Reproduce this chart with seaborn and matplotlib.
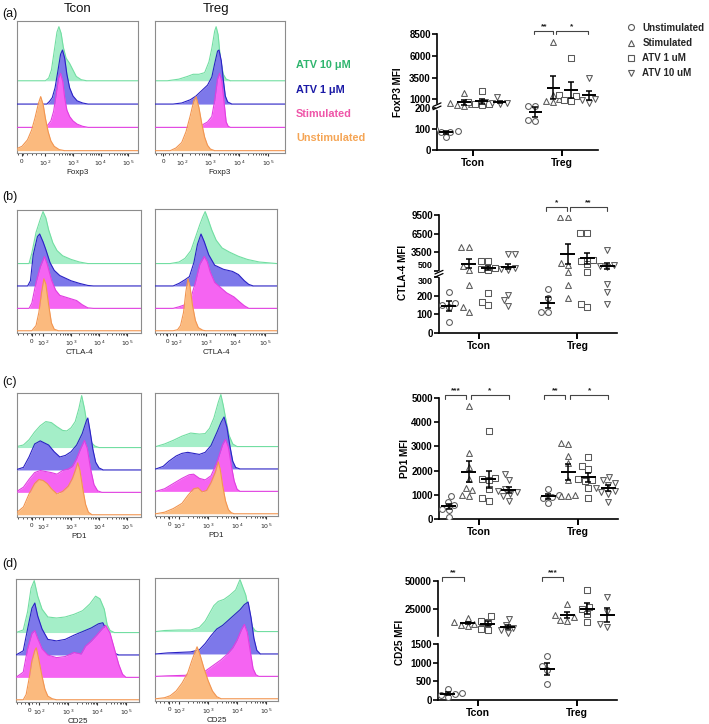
import numpy as np
import pandas as pd
import matplotlib
matplotlib.use('Agg')
import matplotlib.pyplot as plt
from matplotlib.lines import Line2D
import seaborn as sns

sns.set_theme(style="white")
plt.rcParams['font.family'] = ['Liberation Sans', 'DejaVu Sans']

W, H = 709, 724

# ------------------------------------------------------------------ #
# data
# ------------------------------------------------------------------ #
conditions = ['Unstimulated', 'Stimulated', 'ATV 1 uM', 'ATV 10 uM']
cells = ['Tcon', 'Treg']

# MFI values per condition (Unstim, Stim, ATV 1, ATV 10)
foxp3_tcon = [[102, 90, 88, 85, 62], [1700, 560, 420, 330, 300],
              [1950, 700, 520, 420, 360], [1250, 650, 600, 560, 520]]
foxp3_treg = [[225, 220, 145, 140], [7600, 1500, 1100, 800, 700],
              [5800, 1450, 1350, 900, 800], [3500, 1200, 1050, 900, 600]]

ctla4_tcon = [[218, 160, 150, 140, 60], [4300, 4300, 1300, 550, 255, 140, 115],
              [2100, 2100, 900, 700, 600, 215, 165, 150],
              [3100, 3100, 950, 700, 550, 205, 175, 145]]
ctla4_treg = [[235, 185, 115, 112], [9200, 9200, 1700, 1400, 450, 255, 190],
              [6550, 6550, 2200, 2000, 1600, 460, 155, 140],
              [3800, 1450, 1300, 1000, 260, 217, 157]]

pd1_tcon = [[950, 700, 580, 420, 380, 70], [4650, 2730, 2150, 1650, 1300, 1200, 1000, 950],
            [3650, 1700, 1650, 1600, 1250, 850, 750],
            [1850, 1600, 1250, 1150, 1100, 1050, 950, 750]]
pd1_treg = [[1250, 1000, 900, 850, 650], [3150, 3100, 2600, 2300, 1600, 1000, 950, 950],
            [2550, 2200, 2050, 1650, 1600, 1550, 1300, 850],
            [1750, 1600, 1500, 1400, 1300, 1150, 1100, 1050, 700]]

cd25_tcon = [[288, 180, 162, 135, 90], [17500, 14000, 13500, 12500, 11500, 10000],
             [18700, 15000, 13500, 7800, 6800], [16500, 11000, 8500, 6800, 4500]]
cd25_treg = [[1190, 920, 810, 420], [29500, 20000, 18000, 15500, 15000],
             [42000, 27000, 25000, 13500, 20500], [36000, 22500, 12000, 9500]]

# histogram outlines: (log10 fluorescence, height relative to mode)
foxp3_tcon_hist = {
    'ATV 10 uM': [(2.0, 0), (2.12, .05), (2.22, .2), (2.32, .55), (2.42, .9), (2.49, 1), (2.57, .88),
                  (2.65, .62), (2.75, .42), (2.88, .32), (3.0, .2), (3.12, .08), (3.3, .02), (3.5, 0)],
    'ATV 1 uM': [(2.05, 0), (2.15, .05), (2.25, .12), (2.35, .3), (2.45, .6), (2.55, .92), (2.62, 1),
                 (2.7, .85), (2.78, .55), (2.88, .3), (3.0, .15), (3.15, .06), (3.35, .02), (3.55, 0)],
    'Stimulated': [(2.0, 0), (2.1, .05), (2.2, .12), (2.3, .3), (2.4, .65), (2.48, .92), (2.55, 1),
                   (2.63, .85), (2.7, .55), (2.78, .32), (2.88, .2), (3.0, .12), (3.15, .06), (3.35, .02),
                   (3.55, 0)],
    'Unstimulated': [(0.97, .04), (1.15, .08), (1.35, .2), (1.5, .38), (1.62, .6), (1.75, .88), (1.83, 1),
                     (1.92, .85), (2.0, .6), (2.1, .35), (2.2, .18), (2.32, .08), (2.5, .02), (2.7, 0)],
}
foxp3_treg_hist = {
    'ATV 10 uM': [(1.5, 0), (1.9, .03), (2.2, .08), (2.4, .12), (2.6, .12), (2.8, .15), (2.95, .35),
                  (3.05, .6), (3.15, .92), (3.2, 1), (3.27, .85), (3.35, .4), (3.45, .12), (3.55, .03), (3.7, 0)],
    'ATV 1 uM': [(1.7, 0), (2.0, .02), (2.3, .08), (2.5, .15), (2.7, .25), (2.9, .35), (3.05, .5),
                 (3.15, .75), (3.25, .98), (3.3, 1), (3.38, .8), (3.45, .45), (3.52, .15), (3.6, .04), (3.75, 0)],
    'Stimulated': [(2.5, 0), (2.7, .04), (2.9, .1), (3.05, .2), (3.15, .5), (3.25, .9), (3.32, 1),
                   (3.4, .85), (3.48, .45), (3.55, .1), (3.62, .02), (3.7, 0)],
    'Unstimulated': [(1.6, 0), (1.8, .05), (2.0, .15), (2.15, .35), (2.3, .65), (2.42, .92), (2.5, 1),
                     (2.6, .8), (2.7, .5), (2.8, .25), (2.9, .1), (3.0, .03), (3.15, 0)],
}
ctla4_tcon_hist = {
    'ATV 10 uM': [(1.5, 0), (1.6, .2), (1.75, .6), (1.9, .85), (2.0, 1), (2.1, .88), (2.2, .65), (2.35, .4),
                  (2.5, .25), (2.7, .15), (3.0, .08), (3.3, .03), (3.6, 0)],
    'ATV 1 uM': [(1.45, 0), (1.55, .1), (1.65, .6), (1.8, .95), (1.88, 1), (2.0, .85), (2.1, .7), (2.25, .45),
                 (2.4, .3), (2.6, .2), (2.8, .15), (3.0, .1), (3.3, .05), (3.6, .01), (3.8, 0)],
    'Stimulated': [(1.5, 0), (1.6, .1), (1.75, .5), (1.9, .8), (2.05, 1), (2.15, .85), (2.3, .55), (2.45, .35),
                   (2.6, .25), (2.9, .2), (3.2, .15), (3.4, .07), (3.6, .01), (3.8, 0)],
    'Unstimulated': [(1.6, 0), (1.75, .1), (1.85, .35), (1.95, .75), (2.03, 1), (2.1, .9), (2.2, .5),
                     (2.3, .15), (2.4, .03), (2.55, 0)],
}
ctla4_treg_hist = {
    'ATV 10 uM': [(1.8, 0), (2.1, .03), (2.3, .1), (2.5, .25), (2.65, .5), (2.8, .75), (2.9, .9), (2.98, 1),
                  (3.08, .85), (3.2, .65), (3.35, .45), (3.55, .3), (3.8, .22), (4.1, .14), (4.4, .08),
                  (4.8, .03), (5.2, .01), (5.4, 0)],
    'ATV 1 uM': [(1.9, 0), (2.1, .05), (2.3, .12), (2.45, .18), (2.6, .45), (2.72, .8), (2.84, 1), (2.95, .85),
                 (3.1, .6), (3.3, .4), (3.6, .32), (3.9, .28), (4.1, .22), (4.3, .1), (4.45, .03), (4.6, 0)],
    'Stimulated': [(1.9, 0), (2.1, .03), (2.35, .08), (2.5, .2), (2.65, .5), (2.8, .85), (2.95, 1), (3.05, .9),
                   (3.15, .7), (3.3, .5), (3.5, .4), (3.7, .3), (3.95, .22), (4.15, .12), (4.3, .05), (4.45, 0)],
    'Unstimulated': [(1.9, 0), (2.05, .02), (2.15, .1), (2.25, .35), (2.33, .75), (2.4, 1), (2.47, .85),
                     (2.55, .5), (2.65, .2), (2.75, .06), (2.9, .01), (3.0, 0)],
}
pd1_tcon_hist = {
    'ATV 10 uM': [(1.07, .02), (1.3, .05), (1.5, .15), (1.7, .3), (1.9, .42), (2.1, .5), (2.3, .48), (2.5, .4),
                  (2.7, .33), (2.85, .32), (3.0, .38), (3.15, .5), (3.28, .75), (3.38, 1), (3.48, .75),
                  (3.6, .35), (3.72, .1), (3.85, .03), (4.0, 0)],
    'ATV 1 uM': [(1.07, .01), (1.3, .05), (1.5, .25), (1.7, .5), (1.9, .56), (2.05, .52), (2.2, .48), (2.4, .35),
                 (2.6, .25), (2.8, .28), (3.0, .35), (3.2, .48), (3.4, .7), (3.55, .95), (3.6, 1), (3.68, .75),
                 (3.78, .4), (3.88, .15), (4.0, .04), (4.15, 0)],
    'Stimulated': [(1.07, .02), (1.3, .1), (1.5, .25), (1.7, .38), (1.9, .42), (2.1, .4), (2.3, .38), (2.5, .35),
                   (2.7, .42), (2.9, .45), (3.05, .5), (3.2, .65), (3.35, .85), (3.48, 1), (3.58, .85),
                   (3.7, .45), (3.82, .15), (3.95, .03), (4.1, 0)],
    'Unstimulated': [(1.07, .05), (1.3, .15), (1.5, .4), (1.7, .6), (1.85, .68), (2.0, .66), (2.15, .6),
                     (2.3, .5), (2.5, .4), (2.7, .45), (2.9, .55), (3.05, .7), (3.15, .85), (3.24, 1),
                     (3.32, .85), (3.42, .5), (3.52, .2), (3.62, .05), (3.75, 0)],
}
pd1_treg_hist = {
    'ATV 10 uM': [(1.2, 0), (1.5, .05), (1.8, .12), (2.1, .2), (2.4, .26), (2.7, .24), (2.9, .25), (3.05, .35),
                  (3.2, .55), (3.35, .85), (3.44, 1), (3.52, .8), (3.62, .5), (3.72, .22), (3.85, .05), (4.0, 0)],
    'ATV 1 uM': [(1.2, 0), (1.45, .05), (1.65, .15), (1.9, .25), (2.1, .3), (2.3, .32), (2.5, .3), (2.7, .28),
                 (2.9, .32), (3.1, .45), (3.3, .7), (3.45, .9), (3.55, 1), (3.65, .8), (3.75, .45),
                 (3.85, .15), (3.95, .03), (4.1, 0)],
    'Stimulated': [(1.2, 0), (1.5, .05), (1.8, .15), (2.1, .25), (2.35, .32), (2.5, .33), (2.7, .25), (2.9, .22),
                   (3.1, .3), (3.3, .55), (3.5, .9), (3.6, 1), (3.7, .85), (3.8, .5), (3.9, .2), (4.0, .04), (4.1, 0)],
    'Unstimulated': [(1.2, 0), (1.5, .03), (1.8, .1), (2.1, .2), (2.3, .35), (2.5, .48), (2.65, .5), (2.8, .42),
                     (2.95, .45), (3.1, .6), (3.25, .8), (3.35, 1), (3.42, .85), (3.5, .55), (3.6, .25),
                     (3.7, .08), (3.8, .02), (3.9, 0)],
}
cd25_tcon_hist = {
    'ATV 10 uM': [(1.2, 0), (1.45, .05), (1.6, .4), (1.72, .85), (1.83, 1), (1.95, .7), (2.1, .45), (2.3, .3),
                  (2.6, .28), (2.9, .3), (3.2, .35), (3.5, .42), (3.75, .55), (3.95, .7), (4.1, .65),
                  (4.25, .45), (4.35, .15), (4.45, .04), (4.6, 0)],
    'ATV 1 uM': [(1.2, 0), (1.45, .08), (1.6, .5), (1.75, .9), (1.85, 1), (1.95, .75), (2.1, .5), (2.3, .3),
                 (2.6, .27), (2.9, .3), (3.2, .38), (3.5, .45), (3.8, .52), (4.05, .6), (4.2, .62), (4.35, .45),
                 (4.5, .15), (4.62, .03), (4.75, 0)],
    'Stimulated': [(1.2, 0), (1.45, .1), (1.6, .55), (1.75, .85), (1.85, .9), (1.95, .75), (2.1, .55), (2.3, .43),
                   (2.6, .38), (2.9, .4), (3.2, .48), (3.45, .45), (3.6, .6), (3.8, .7), (4.0, .82), (4.2, .95),
                   (4.3, 1), (4.45, .85), (4.6, .55), (4.75, .25), (4.88, .06), (5.0, 0)],
    'Unstimulated': [(1.45, 0), (1.55, .1), (1.65, .4), (1.75, .75), (1.85, .95), (1.9, 1), (1.98, .8),
                     (2.1, .45), (2.2, .2), (2.3, .07), (2.45, .02), (2.6, 0)],
}
cd25_treg_hist = {
    'ATV 10 uM': [(1.2, 0), (1.5, .02), (2.0, .03), (2.4, .03), (2.7, .08), (2.9, .2), (3.05, .35), (3.2, .5),
                  (3.35, .58), (3.55, .62), (3.75, .7), (3.95, .8), (4.1, 1), (4.2, .85), (4.3, .7), (4.42, .35),
                  (4.52, .1), (4.62, .02), (4.7, 0)],
    'ATV 1 uM': [(1.2, 0), (1.6, .02), (2.0, .03), (2.4, .04), (2.7, .08), (2.9, .2), (3.1, .35), (3.3, .48),
                 (3.5, .55), (3.7, .65), (3.9, .75), (4.1, .85), (4.25, .95), (4.38, 1), (4.48, .7),
                 (4.58, .3), (4.68, .07), (4.8, 0)],
    'Stimulated': [(1.2, 0), (1.6, .01), (2.2, .02), (2.6, .05), (2.9, .1), (3.2, .22), (3.45, .32), (3.65, .42),
                   (3.85, .55), (4.0, .7), (4.15, .9), (4.25, 1), (4.35, .85), (4.45, .5), (4.55, .15),
                   (4.65, .03), (4.75, 0)],
    'Unstimulated': [(1.2, 0), (1.5, .02), (1.7, .06), (1.9, .15), (2.1, .3), (2.3, .5), (2.45, .75), (2.55, .9),
                     (2.62, 1), (2.72, .85), (2.85, .6), (3.0, .35), (3.15, .15), (3.3, .04), (3.45, 0)],
}

# ------------------------------------------------------------------ #
# styling
# ------------------------------------------------------------------ #
hist_order = ['ATV 10 uM', 'ATV 1 uM', 'Stimulated', 'Unstimulated']
fills = {'ATV 10 uM': '#a4eec8', 'ATV 1 uM': '#7d78ea', 'Stimulated': '#f564f2', 'Unstimulated': '#fbba7e'}
edges = {'ATV 10 uM': '#72dea2', 'ATV 1 uM': '#2a22c4', 'Stimulated': '#e03ee0', 'Unstimulated': '#f29550'}
legend_cols = {'ATV 10 uM': '#2fb56e', 'ATV 1 uM': '#1b1aa6', 'Stimulated': '#ef55a8', 'Unstimulated': '#f5a555'}
legend_txt = {'ATV 10 uM': 'ATV 10 \u03bcM', 'ATV 1 uM': 'ATV 1 \u03bcM',
              'Stimulated': 'Stimulated', 'Unstimulated': 'Unstimulated'}
markers = ['o', '^', 's', 'v']
offsets = [-0.3, -0.1, 0.1, 0.3]
PEAK = 2.32

fig = plt.figure(figsize=(W / 100, H / 100), dpi=100)


def px_rect(x0, y0, x1, y1):
    return [x0 / W, 1 - y1 / H, (x1 - x0) / W, (y1 - y0) / H]


def draw_hist(curves, box, xlim, zero, band, xlabel):
    ax = fig.add_axes(px_rect(*box))
    height = box[3] - box[1]
    for i, cond in enumerate(hist_order):
        base = 3.1 - i
        xs = [p[0] for p in curves[cond]]
        ys = [base + PEAK * p[1] for p in curves[cond]]
        if xs[0] > xlim[0]:
            xs = [xlim[0]] + xs
            ys = [base] + ys
        xs = xs + [xlim[1]]
        ys = ys + [base]
        ax.fill_between(xs, base, ys, color=fills[cond], lw=0, zorder=2 + i)
        ax.plot(xs, ys, color=edges[cond], lw=0.8, zorder=2 + i)
    ax.set_xlim(*xlim)
    ax.set_ylim(0, height / band)
    ax.set_yticks([])
    ax.set_xticks([zero, 2, 3, 4, 5])
    ax.set_xticklabels(['0', '$10^2$', '$10^3$', '$10^4$', '$10^5$'])
    minor = [np.log10(k * 10.0 ** d) for d in (2, 3, 4) for k in range(2, 10)]
    minor += list(np.linspace(xlim[0] + 0.05, 2, 7)[:-1])
    ax.set_xticks([m for m in minor if m < xlim[1]], minor=True)
    ax.tick_params(axis='x', which='major', length=2.5, width=0.8, labelsize=4.5, pad=1.5,
                   direction='out', color='#333333', bottom=True)
    ax.tick_params(axis='x', which='minor', length=1.5, width=0.6, direction='out',
                   color='#333333', bottom=True)
    for s in ax.spines.values():
        s.set_color('#8c8c8c')
        s.set_linewidth(0.8)
    ax.set_xlabel(xlabel, fontsize=5.8, labelpad=0.5, color='#222222')
    return ax


hist_panels = [
    (foxp3_tcon_hist, (17, 21, 138, 153), (0.97, 5.36), 1.15, 23.3, 'Foxp3'),
    (foxp3_treg_hist, (155, 21, 285, 153), (1.07, 5.6), 1.35, 23.3, 'Foxp3'),
    (ctla4_tcon_hist, (17, 210, 141, 333), (1.07, 5.5), 1.6, 22.4, 'CTLA-4'),
    (ctla4_treg_hist, (155, 209, 277, 333), (1.29, 5.4), 1.7, 22.4, 'CTLA-4'),
    (pd1_tcon_hist, (17, 393, 141, 517), (1.07, 5.5), 1.6, 22.4, 'PD1'),
    (pd1_treg_hist, (155, 393, 278, 516), (1.17, 5.41), 1.66, 22.4, 'PD1'),
    (cd25_tcon_hist, (16, 579, 139, 702), (1.2, 5.45), 1.66, 22.4, 'CD25'),
    (cd25_treg_hist, (155, 578, 278, 701), (1.17, 5.41), 1.66, 22.4, 'CD25'),
]
for args in hist_panels:
    draw_hist(*args)

fig.text(78 / W, 1 - 9 / H, 'Tcon', ha='center', va='center', fontsize=9.5, color='#111111')
fig.text(216 / W, 1 - 9 / H, 'Treg', ha='center', va='center', fontsize=9.5, color='#111111')
for lab, ypx in zip(['(a)', '(b)', '(c)', '(d)'], [14, 197, 382, 564]):
    fig.text(2 / W, 1 - ypx / H, lab, ha='left', va='center', fontsize=9, color='#111111')

for cond, ypx in zip(hist_order, [65, 90, 114, 138]):
    fig.text(296 / W, 1 - ypx / H, legend_txt[cond], ha='left', va='center', fontsize=7.8,
             fontweight='bold', color=legend_cols[cond])


# ------------------------------------------------------------------ #
# scatter panels
# ------------------------------------------------------------------ #
def piecewise(data_pts, screen_pts):
    d = np.asarray(data_pts, float)
    s = np.asarray(screen_pts, float)

    def interp(v, a, b):
        v = np.asarray(v, float)
        out = np.interp(v, a, b)
        lo = (b[1] - b[0]) / (a[1] - a[0])
        hi = (b[-1] - b[-2]) / (a[-1] - a[-2])
        out = np.where(v < a[0], b[0] + (v - a[0]) * lo, out)
        out = np.where(v > a[-1], b[-1] + (v - a[-1]) * hi, out)
        return out

    return (lambda v: interp(v, d, s)), (lambda v: interp(v, s, d))


def long_frame(tcon, treg, keep):
    rows = []
    for gi, groups in enumerate([tcon, treg]):
        for ci, vals in enumerate(groups):
            if ci not in keep:
                continue
            for v in vals:
                rows.append((gi + offsets[ci], conditions[ci], v))
    return pd.DataFrame(rows, columns=['pos', 'condition', 'mfi'])


def style_scatter_ax(ax, box, show_x=True):
    ax.set_xlim(-0.4, 1.4)
    for side in ['top', 'right']:
        ax.spines[side].set_visible(False)
    for side in ['left', 'bottom']:
        ax.spines[side].set_color('black')
        ax.spines[side].set_linewidth(1.2)
    ax.tick_params(axis='y', length=3.5, width=1.2, labelsize=7, pad=1, direction='out', left=True,
                   colors='black')
    for t in ax.get_yticklabels():
        t.set_fontweight('bold')
    if show_x:
        ax.set_xticks([0, 1])
        ax.set_xticklabels(cells, fontsize=7.5, fontweight='bold')
        ax.tick_params(axis='x', length=4, width=1.4, pad=2, direction='out', bottom=True, colors='black')
    else:
        ax.spines['bottom'].set_visible(False)
        ax.set_xticks([])
    ax.set_xlabel('')
    ax.set_ylabel('')
    ax.grid(False)


def draw_points(ax, tcon, treg, keep):
    df = long_frame(tcon, treg, keep)
    for ci in keep:
        sub = df[df['condition'] == conditions[ci]]
        sns.swarmplot(data=sub, x='pos', y='mfi', native_scale=True, orient='x', marker=markers[ci],
                      color='white', edgecolor='#5a5a5a', linewidth=0.75, size=4.2, ax=ax, zorder=3)
        for gi, groups in enumerate([tcon, treg]):
            v = np.asarray(groups[ci], float)
            m = v.mean()
            se = v.std(ddof=1) / np.sqrt(len(v))
            x = gi + offsets[ci]
            ax.hlines(m, x - 0.075, x + 0.075, color='black', lw=1.4, zorder=5)
            ax.errorbar(x, m, yerr=se, fmt='none', ecolor='black', elinewidth=1.1,
                        capsize=2.3, capthick=1.1, zorder=5)


def bracket(ax, box, x0, x1, ypx, text):
    h = box[3] - box[1]
    ya = (box[3] - ypx) / h
    drop = 3.5 / h
    trans = ax.get_xaxis_transform()
    ax.plot([x0, x0, x1, x1], [ya - drop, ya, ya, ya - drop], color='#444444', lw=0.8,
            transform=trans, clip_on=False, zorder=6)
    ax.text((x0 + x1) / 2, ya + 1.0 / h, text, transform=trans, ha='center', va='bottom',
            fontsize=6, fontweight='bold', color='#222222')


def axis_break(ax, box, yval):
    w = box[2] - box[0]
    h = box[3] - box[1]
    ya = ax.transAxes.inverted().transform(ax.transData.transform((0, yval)))[1]
    g = 1.6 / h
    ax.plot([0, 0], [ya - g, ya + g], color='white', lw=2.5, transform=ax.transAxes,
            clip_on=False, zorder=7)
    for s in (-g, g):
        ax.plot([-4 / w, 4 / w], [ya + s - 1.8 / h, ya + s + 1.8 / h], color='black', lw=0.9,
                transform=ax.transAxes, clip_on=False, zorder=8)


all_groups = [0, 1, 2, 3]

# (a) FoxP3
box_a = (437, 34, 598, 150)
ax_a = fig.add_axes(px_rect(*box_a))
fa = piecewise([0, 210, 8500], [0, 43.7, 116])
ax_a.set_yscale('function', functions=fa)
ax_a.set_ylim(0, 8500)
draw_points(ax_a, foxp3_tcon, foxp3_treg, all_groups)
ax_a.set_ylim(0, 8500)
ax_a.set_yticks([0, 100, 200, 1000, 3500, 6000, 8500])
ax_a.set_yticklabels(['0', '100', '200', '1000', '3500', '6000', '8500'])
style_scatter_ax(ax_a, box_a)
axis_break(ax_a, box_a, 212)
bracket(ax_a, box_a, 0.69, 0.90, 31, '**')
bracket(ax_a, box_a, 0.93, 1.29, 31, '*')

# (b) CTLA-4
box_b = (439, 215, 617, 333)
ax_b = fig.add_axes(px_rect(*box_b))
fb = piecewise([0, 300, 500, 9500], [0, 56, 62.5, 118])
ax_b.set_yscale('function', functions=fb)
ax_b.set_ylim(0, 9500)
draw_points(ax_b, ctla4_tcon, ctla4_treg, all_groups)
ax_b.set_ylim(0, 9500)
ax_b.set_yticks([0, 100, 200, 300, 500, 3500, 6500, 9500])
ax_b.set_yticklabels(['0', '100', '200', '300', '500', '3500', '6500', '9500'])
style_scatter_ax(ax_b, box_b)
# the two labels around the break sit stacked, one above and one below its tick
for t in ax_b.get_yticklabels():
    if t.get_text() == '500':
        t.set_verticalalignment('bottom')
        t.set_fontsize(6.5)
    elif t.get_text() == '300':
        t.set_verticalalignment('top')
        t.set_fontsize(6.5)
axis_break(ax_b, box_b, 400)
bracket(ax_b, box_b, 0.68, 0.89, 207, '*')
bracket(ax_b, box_b, 0.92, 1.30, 207, '**')

# (c) PD1
box_c = (439, 398, 618, 519)
ax_c = fig.add_axes(px_rect(*box_c))
draw_points(ax_c, pd1_tcon, pd1_treg, all_groups)
ax_c.set_ylim(0, 5000)
ax_c.set_yticks([0, 1000, 2000, 3000, 4000, 5000])
ax_c.set_yticklabels(['0', '1000', '2000', '3000', '4000', '5000'])
style_scatter_ax(ax_c, box_c)
bracket(ax_c, box_c, -0.34, -0.13, 395, '***')
bracket(ax_c, box_c, -0.08, 0.30, 395, '*')
bracket(ax_c, box_c, 0.66, 0.87, 395, '**')
bracket(ax_c, box_c, 0.92, 1.30, 395, '*')

# (d) CD25, split axis
box_d_top = (438, 581, 617, 636)
box_d_bot = (438, 644, 617, 700)
ax_dt = fig.add_axes(px_rect(*box_d_top))
ax_db = fig.add_axes(px_rect(*box_d_bot))
draw_points(ax_dt, cd25_tcon, cd25_treg, [1, 2, 3])
draw_points(ax_db, cd25_tcon, cd25_treg, [0])
ax_dt.set_ylim(1500, 50000)
ax_dt.set_yticks([25000, 50000])
ax_dt.set_yticklabels(['25000', '50000'])
ax_db.set_ylim(0, 1500)
ax_db.set_yticks([0, 500, 1000, 1500])
ax_db.set_yticklabels(['0', '500', '1000', '1500'])
style_scatter_ax(ax_dt, box_d_top, show_x=False)
style_scatter_ax(ax_db, box_d_bot)
bracket(ax_dt, box_d_top, -0.36, -0.14, 577, '**')
bracket(ax_dt, box_d_top, 0.65, 0.86, 577, '***')

# y labels
for txt, xpx, ypx in [('FoxP3 MFI', 398, 92), ('CTLA-4 MFI', 403, 272),
                      ('PD1 MFI', 405, 458), ('CD25 MFI', 400, 642)]:
    fig.text(xpx / W, 1 - ypx / H, txt, rotation=90, ha='center', va='center',
             fontsize=7.2, fontweight='bold', color='black')

# legend for scatter panels
handles = [Line2D([], [], marker=m, ls='none', mfc='white', mec='#5a5a5a', mew=0.8, ms=4.3)
           for m in markers]
leg = fig.legend(handles, ['Unstimulated', 'Stimulated', 'ATV 1 uM', 'ATV 10 uM'],
                 loc='upper left', bbox_to_anchor=(620 / W, 1 - 18 / H), frameon=False,
                 prop={'size': 7, 'weight': 'bold'}, handletextpad=0.6, labelspacing=0.52,
                 handlelength=1.2, borderpad=0)

plt.savefig('out.png', dpi=100)
plt.close()
